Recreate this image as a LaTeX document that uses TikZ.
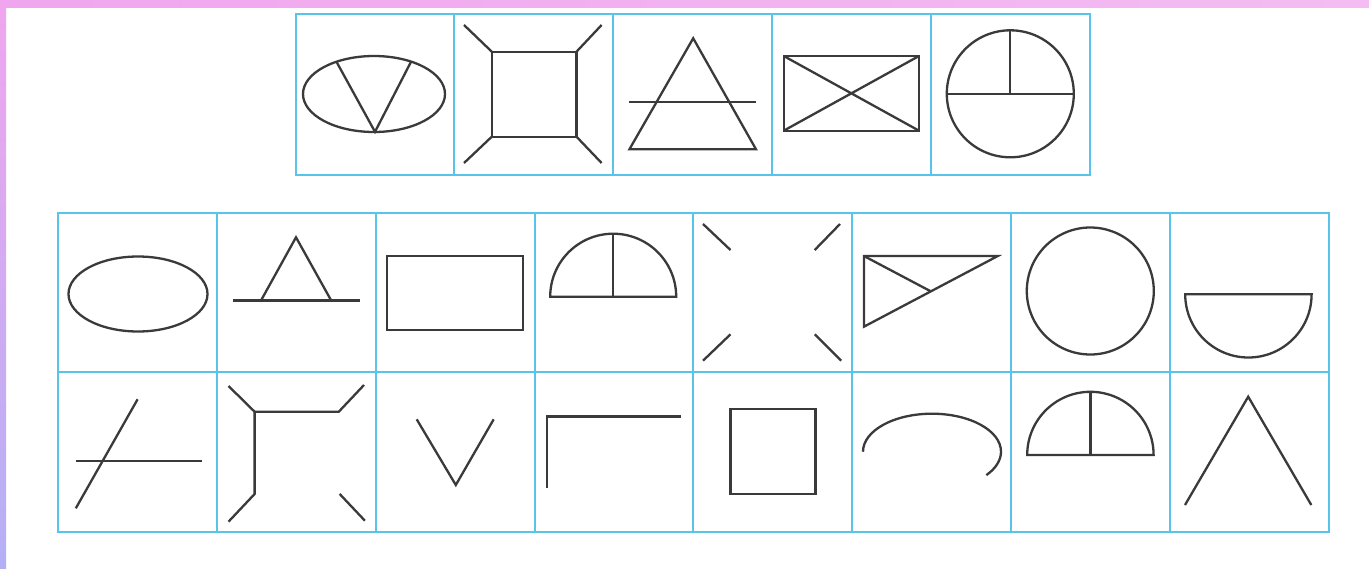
\documentclass[tikz,border=0pt]{standalone}
\usepackage{xcolor}
\usepackage{tikz}
\usetikzlibrary{positioning}
\definecolor{gridblue}{HTML}{58C4EA}
\definecolor{inkgray}{HTML}{3A3A3A}
\definecolor{strippink}{HTML}{F0A6EE}
\definecolor{striplilac}{HTML}{B4B0F6}

\begin{document}
\begin{tikzpicture}[x=1pt, y=-1pt,
  cell/.style={rectangle, draw=gridblue, line width=2pt, outer sep=0pt, inner sep=0pt,
    minimum width=158.8pt, minimum height=161pt},
  lowcell/.style={cell, minimum height=159.5pt},
  glyph/.style={draw=inkgray, line width=2.3pt},
  node distance=0pt and 0pt,
]
  \useasboundingbox (0,0) rectangle (1369,568);
  \fill[white] (0,0) rectangle (1369,568);
  \shade[left color=strippink, right color=strippink!75!white] (0,0) rectangle (1369,7);
  \shade[top color=strippink, bottom color=striplilac] (0,0) rectangle (6,568);

  % top row
  \node[cell] (t1) at (375,94.5) {};
  \node[cell, right=of t1] (t2) {};
  \node[cell, right=of t2] (t3) {};
  \node[cell, right=of t3] (t4) {};
  \node[cell, right=of t4] (t5) {};

  % lower table
  \node[lowcell] (b1) at (137.5,292.7) {};
  \node[lowcell, right=of b1] (b2) {};
  \node[lowcell, right=of b2] (b3) {};
  \node[lowcell, right=of b3] (b4) {};
  \node[lowcell, right=of b4] (b5) {};
  \node[lowcell, right=of b5] (b6) {};
  \node[lowcell, right=of b6] (b7) {};
  \node[lowcell, right=of b7] (b8) {};
  \node[lowcell, below=of b1] (c1) {};
  \node[lowcell, right=of c1] (c2) {};
  \node[lowcell, right=of c2] (c3) {};
  \node[lowcell, right=of c3] (c4) {};
  \node[lowcell, right=of c4] (c5) {};
  \node[lowcell, right=of c5] (c6) {};
  \node[lowcell, right=of c6] (c7) {};
  \node[lowcell, right=of c7] (c8) {};

  % figures, top row
  \draw[glyph] (374,94) ellipse [x radius=71, y radius=38];
  \draw[glyph] (336.5,61.8) -- (375,131.8) -- (411,61.8);
  \draw[glyph] (491.8,51.7) rectangle (576.5,136.7);
  \draw[glyph] (464,25) -- (491.8,51.7) (576.5,51.7) -- (601.6,25)
    (464,163) -- (491.8,136.7) (576.5,136.7) -- (601.6,163);
  \draw[glyph] (693.2,38.3) -- (756,149.3) -- (629.4,149.3) -- cycle;
  \draw[glyph] (629,101.7) -- (756,101.7);
  \draw[glyph] (783.7,56) rectangle (919,130.7);
  \draw[glyph] (783.7,56) -- (919,130.7) (919,56) -- (783.7,130.7);
  \draw[glyph] (1010.3,93.8) circle [radius=63.5];
  \draw[glyph] (946.8,93.8) -- (1073.8,93.8) (1010.3,30.3) -- (1010.3,93.8);

  % figures, first line of the table
  \draw[glyph] (138,294) ellipse [x radius=69.5, y radius=37.5];
  \draw[glyph] (261,300.5) -- (296,237.3) -- (331.2,300.5);
  \draw[glyph] (232.8,300.5) -- (360,300.5);
  \draw[glyph] (387.2,256) rectangle (522.7,330);
  \draw[glyph] (550.2,296.7) arc [start angle=180, end angle=360, radius=63] -- cycle;
  \draw[glyph] (613.2,233.7) -- (613.2,296.7);
  \draw[glyph] (703,224) -- (730.5,250) (840,224) -- (814.7,250)
    (703,360.7) -- (730.5,334.3) (841.2,360.7) -- (814.7,334.3);
  \draw[glyph] (863.9,256) -- (997.8,256) -- (863.9,326.7) -- cycle;
  \draw[glyph] (863.9,256) -- (930.9,291.4);
  \draw[glyph] (1090.3,291) circle [radius=63.5];
  \draw[glyph] (1311.6,294.3) arc [start angle=0, end angle=180, radius=63.2] -- cycle;

  % figures, second line of the table
  \draw[glyph] (137.6,399.3) -- (75.8,508.3);
  \draw[glyph] (75.8,461) -- (202,461);
  \draw[glyph] (228.5,386) -- (254.6,411.7) -- (338.8,411.7) -- (364,385);
  \draw[glyph] (254.6,411.7) -- (254.6,494) -- (228.5,521.7);
  \draw[glyph] (339.7,494) -- (364.9,520.7);
  \draw[glyph] (416.7,419.3) -- (455.8,485) -- (493.7,419.3);
  \draw[glyph] (547,488.3) -- (547,416.5) -- (680.6,416.5);
  \draw[glyph] (730.5,409.3) rectangle (815.5,494);
  \draw[glyph] (863,451.7) arc [start angle=180, end angle=398, x radius=69, y radius=38];
  \draw[glyph] (1027.2,455) arc [start angle=180, end angle=360, radius=63.2] -- cycle;
  \draw[glyph] (1090.4,391.8) -- (1090.4,455);
  \draw[glyph] (1185,505) -- (1248.2,396.7) -- (1311.3,505);
\end{tikzpicture}
\end{document}
